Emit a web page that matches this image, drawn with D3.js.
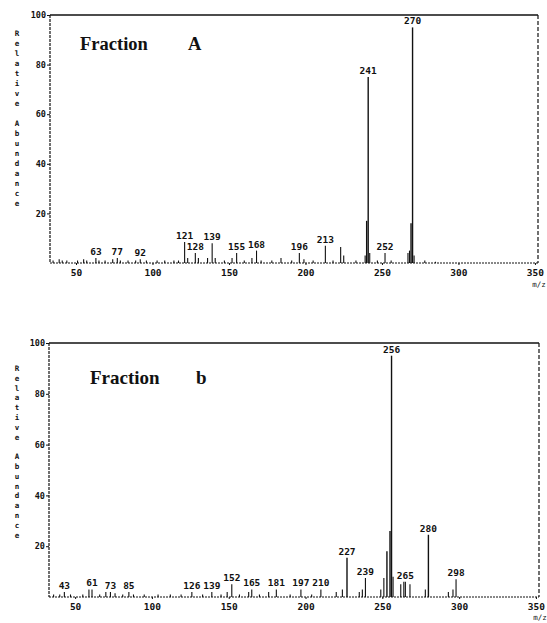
<!DOCTYPE html>
<html><head><meta charset="utf-8">
<script src="https://cdn.jsdelivr.net/npm/d3@7"></script>
<style>body{margin:0;background:#fff}svg{display:block}</style>
</head><body>
<svg id="c" width="547" height="623"></svg>
<script>
// ---------- DATA ----------
const xTicks = [50, 100, 150, 200, 250, 300, 350];
const yTicks = [20, 40, 60, 80, 100];
const axisTitle = "Relative Abundance";
const xUnit = "m/z";

const titleA = ["Fraction", "A"];
const mzA = [35, 39, 41, 44, 51, 55, 57, 63, 65, 69, 74, 77, 79, 84, 89, 92, 96, 103, 108, 114, 117, 121, 123, 128, 130, 136, 139, 141, 147, 152, 155, 160, 165, 168, 171, 178, 184, 191, 196, 199, 205, 213, 218, 223, 225, 233, 239, 240, 241, 242, 247, 252, 256, 267, 268, 269, 270, 271, 278, 285];
const intA = [1, 1.5, 1, 1, 1, 1.5, 1, 2, 1, 1, 1.5, 2, 1, 1, 1, 1.5, 1, 1, 1, 1, 1, 8.5, 2, 4, 2, 2, 8, 2, 1, 2, 4, 1, 2, 5, 1, 1, 2, 1, 4, 1.5, 1, 7, 1, 6.5, 3, 1, 3, 17, 75, 4, 1, 4, 1, 4, 5, 16, 95, 3, 1, 0.5];
const labA = [63, 77, 92, 121, 128, 139, 155, 168, 196, 213, 241, 252, 270];

const titleB = ["Fraction", "b"];
const mzB = [36, 40, 43, 47, 55, 59, 61, 66, 70, 73, 76, 81, 85, 88, 95, 104, 112, 119, 126, 133, 139, 145, 149, 152, 157, 163, 165, 170, 176, 181, 190, 197, 204, 210, 220, 224, 227, 235, 237, 239, 249, 251, 253, 255, 256, 257, 262, 264, 265, 268, 278, 280, 293, 296, 298];
const intB = [1, 1, 2, 1, 1, 3, 3, 1, 2, 2, 1.5, 1, 2, 1, 1, 1, 1, 1, 2, 1, 2, 1, 2, 5, 1, 2, 3, 1, 2, 3, 1, 3, 1, 3, 2, 3, 15.5, 2, 3, 7.5, 3, 7.5, 18, 26, 95, 8, 5, 6, 6, 5, 3, 24.5, 2, 3, 7];
const labB = [43, 61, 73, 85, 126, 139, 152, 165, 181, 197, 210, 227, 239, 256, 265, 280, 298];

// ---------- DRAW ----------
const svg = d3.select("#c");
const mono = "'DejaVu Sans Mono', monospace";
const serif = "'Liberation Serif', 'DejaVu Serif', serif";

function panel(cfg, mz, inten, labs, title) {
  const x = d3.scaleLinear().domain([33, 352]).range([cfg.l, cfg.r]);
  const y = d3.scaleLinear().domain([0, 100]).range([cfg.b, cfg.t]);
  const g = svg.append("g");

  // frame
  g.append("line").attr("x1", cfg.l).attr("x2", cfg.r).attr("y1", cfg.t).attr("y2", cfg.t)
    .attr("stroke", "#111").attr("stroke-width", 1.3);
  g.append("line").attr("x1", cfg.l).attr("x2", cfg.l).attr("y1", cfg.t).attr("y2", cfg.b)
    .attr("stroke", "#111").attr("stroke-width", 1.2).attr("stroke-dasharray", "3,1");
  g.append("line").attr("x1", cfg.r).attr("x2", cfg.r).attr("y1", cfg.t).attr("y2", cfg.b)
    .attr("stroke", "#111").attr("stroke-width", 1.2).attr("stroke-dasharray", "4,2");
  g.append("line").attr("x1", cfg.l).attr("x2", cfg.r).attr("y1", cfg.b).attr("y2", cfg.b)
    .attr("stroke", "#111").attr("stroke-width", 1).attr("stroke-dasharray", "2,1");

  // axes
  const ya = g.append("g").attr("transform", `translate(${cfg.l},0)`)
    .call(d3.axisLeft(y).tickValues(yTicks).tickSize(3).tickPadding(1));
  ya.select(".domain").remove();
  ya.selectAll("text").attr("font-family", mono).attr("font-weight", "bold").attr("font-size", 8.5).attr("fill", "#111");
  ya.selectAll("line").attr("stroke", "#111");

  const xa = g.append("g").attr("transform", `translate(0,${cfg.b})`)
    .call(d3.axisBottom(x).tickValues(xTicks).tickSize(2).tickPadding(4));
  xa.select(".domain").remove();
  xa.selectAll("text").attr("font-family", mono).attr("font-weight", "bold").attr("font-size", 9.5).attr("fill", "#111");
  xa.selectAll("line").attr("stroke", "#111");

  g.append("text").attr("x", x(350) + 4).attr("y", cfg.b + cfg.unitDy).attr("text-anchor", "middle")
    .attr("font-family", mono).attr("font-size", 7.5).attr("fill", "#111").text(xUnit);

  // peaks
  g.selectAll("line.pk").data(mz.map((m, i) => ({ m, v: inten[i] }))).join("line")
    .attr("class", "pk")
    .attr("x1", d => x(d.m)).attr("x2", d => x(d.m))
    .attr("y1", cfg.b).attr("y2", d => y(d.v))
    .attr("stroke", "#111").attr("stroke-width", d => d.v > 10 ? 1.4 : 1.1);

  // peak labels
  g.selectAll("text.pl").data(labs).join("text")
    .attr("class", "pl")
    .attr("x", d => x(d)).attr("y", d => y(inten[mz.indexOf(d)]) - 3)
    .attr("text-anchor", "middle")
    .attr("font-family", mono).attr("font-weight", "bold").attr("font-size", 9.5).attr("fill", "#111")
    .text(d => d);

  // y axis title, stacked upright letters
  g.selectAll("text.yt").data(axisTitle.split("")).join("text")
    .attr("class", "yt")
    .attr("x", 17).attr("y", (d, i) => cfg.titleY + i * cfg.titleStep)
    .attr("text-anchor", "middle")
    .attr("font-family", mono).attr("font-weight", "bold").attr("font-size", 7.5).attr("fill", "#111")
    .text(d => d);

  // fraction caption
  g.append("text").attr("x", cfg.capX).attr("y", cfg.capY)
    .attr("font-family", serif).attr("font-weight", "bold")
    .attr("font-size", cfg.capSize).attr("fill", "#111").text(title[0]);
  g.append("text").attr("x", cfg.capX2).attr("y", cfg.capY)
    .attr("font-family", serif).attr("font-weight", "bold")
    .attr("font-size", cfg.capSize).attr("fill", "#111").text(title[1]);
}

panel({ l: 50, r: 538, t: 15, b: 263, unitDy: 24, titleY: 36, titleStep: 10, capX: 80, capX2: 188, capY: 50, capSize: 18.5 },
  mzA, intA, labA, titleA);
panel({ l: 49, r: 539, t: 343, b: 597, unitDy: 23, titleY: 371, titleStep: 9.8, capX: 90, capX2: 196, capY: 384, capSize: 19 },
  mzB, intB, labB, titleB);
</script>
</body></html>
